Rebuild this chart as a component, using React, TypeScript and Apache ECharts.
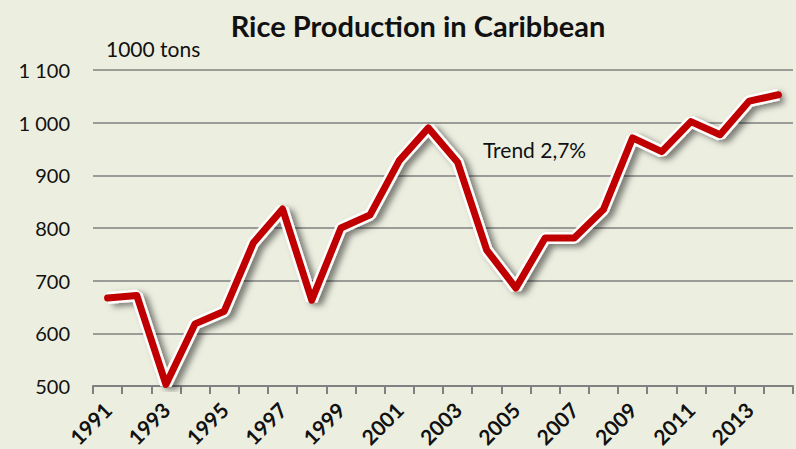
import React, { useEffect, useRef } from "react";
import * as echarts from "echarts";

const years = ["1991","1992","1993","1994","1995","1996","1997","1998","1999","2000","2001","2002","2003","2004","2005","2006","2007","2008","2009","2010","2011","2012","2013","2014"];
const production = [667, 672, 503, 618, 642, 772, 836, 663, 800, 825, 928, 990, 925, 758, 686, 781, 781, 835, 971, 945, 1002, 977, 1041, 1053];
const yTicks = { min: 500, max: 1100, step: 100 };
const titleText = "Rice Production in Caribbean";
const unitText = "1000 tons";
const trendText = "Trend 2,7%";

const FONT = "Lato, 'Open Sans', sans-serif";

export default function App() {
  const ref = useRef<HTMLDivElement>(null);
  useEffect(() => {
    if (!ref.current) return;
    const chart = echarts.init(ref.current, undefined, { renderer: "svg" });
    chart.setOption({
      animation: false,
      backgroundColor: "#ecefe0",
      textStyle: { fontFamily: FONT },
      title: {
        text: titleText,
        left: 413,
        top: 6,
        textAlign: "center",
        textStyle: { fontFamily: FONT, fontSize: 29, fontWeight: "bold", color: "#111" },
      },
      graphic: [
        { type: "text", left: 106, top: 38, style: { text: unitText, font: `21px ${FONT}`, fill: "#111" } },
        { type: "text", left: 483, top: 139, style: { text: trendText, font: `21px ${FONT}`, fill: "#111" } },
      ],
      grid: { left: 93, right: 3, top: 70, bottom: 63, containLabel: false, outerBoundsMode: "none" },
      xAxis: {
        type: "category",
        data: years,
        boundaryGap: true,
        axisLine: { show: true, lineStyle: { color: "#808080", width: 2 } },
        axisTick: { show: true, interval: 0, length: 8, lineStyle: { color: "#808080", width: 2 } },
        axisLabel: { interval: 1, rotate: 45, margin: 20, fontSize: 21, fontWeight: "bold", color: "#111", fontFamily: FONT },
      },
      yAxis: {
        type: "value",
        min: yTicks.min,
        max: yTicks.max,
        interval: yTicks.step,
        axisLine: { show: false },
        axisTick: { show: false },
        axisLabel: {
          margin: 23,
          fontSize: 20,
          color: "#111",
          fontFamily: FONT,
          formatter: (v: number) => (v >= 1000 ? `${Math.floor(v / 1000)} ${String(v % 1000).padStart(3, "0")}` : String(v)),
        },
        splitLine: { show: true, lineStyle: { color: "#808080", width: 1.5 } },
      },
      series: [
        {
          type: "line",
          data: production,
          symbol: "none",
          silent: true,
          z: 1,
          lineStyle: {
            color: "rgba(255,255,255,0.95)",
            width: 12,
            shadowColor: "rgba(0,0,0,0.5)",
            shadowBlur: 6,
            shadowOffsetX: 5,
            shadowOffsetY: 3,
          },
        },
        {
          type: "line",
          data: production,
          symbol: "none",
          z: 2,
          lineStyle: { color: "#c00000", width: 7, join: "round", cap: "round" },
        },
      ],
    });
    return () => chart.dispose();
  }, []);
  return <div ref={ref} style={{ position: "fixed", left: 0, top: 0, width: 796, height: 449 }} />;
}
